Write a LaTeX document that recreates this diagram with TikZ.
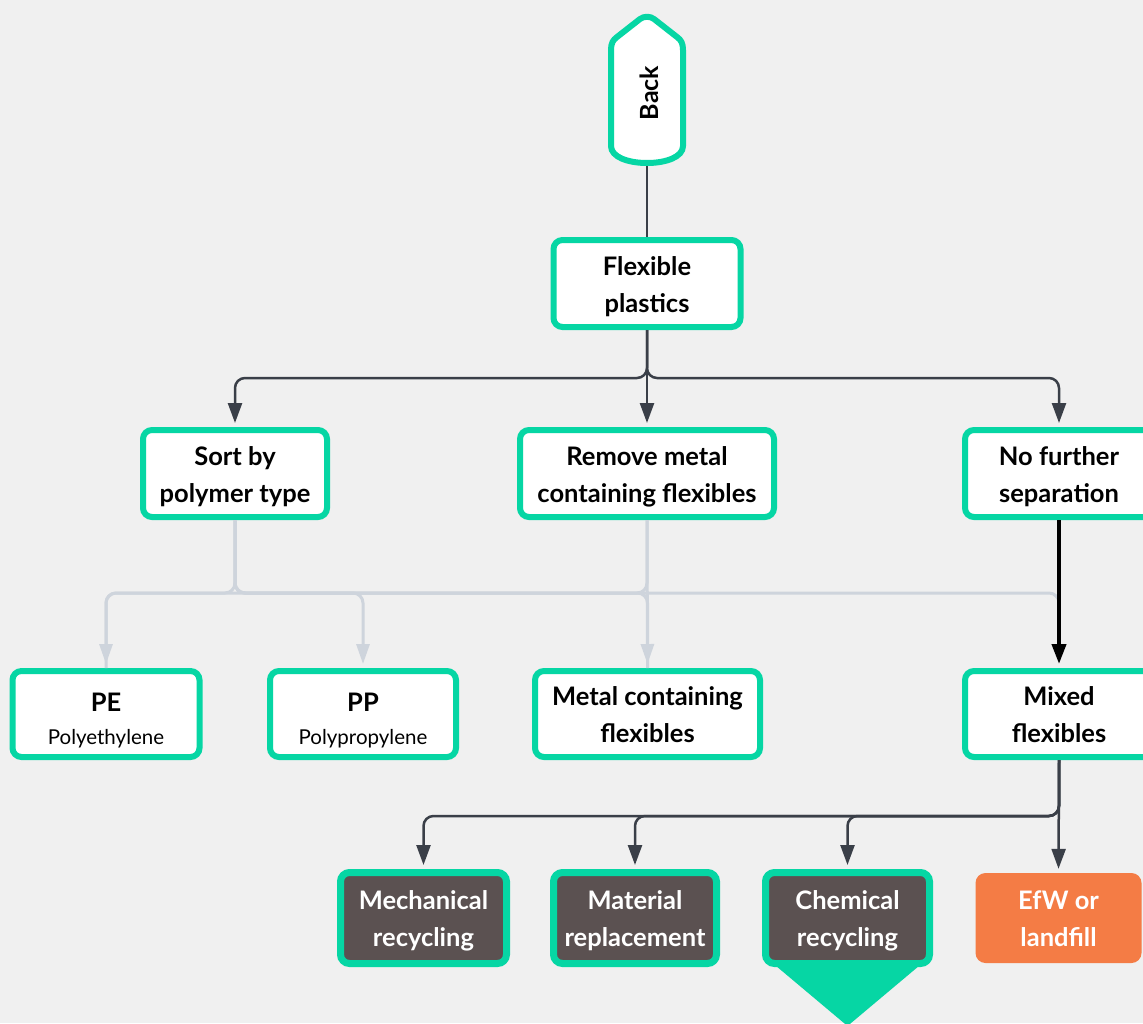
\documentclass[tikz,border=0pt]{standalone}
\usepackage{fontspec}
\setmainfont{Lato}
\usetikzlibrary{arrows.meta}
\definecolor{grn}{RGB}{6,214,164}
\definecolor{dkline}{RGB}{58,63,72}
\definecolor{ltline}{RGB}{206,212,220}
\definecolor{dkfill}{RGB}{91,81,81}
\definecolor{orng}{RGB}{244,124,69}
\definecolor{bgc}{RGB}{240,240,240}
\newcommand\topst{\rule{0pt}{28pt}}
\newcommand\botst{\rule[-8pt]{0pt}{8pt}}
\tikzset{
  txt/.style={font=\bfseries\fontsize{25.5}{37}\selectfont},
  box/.style={draw=grn, line width=6pt, fill=white, rounded corners=9pt, align=center,
    inner sep=0pt, txt, text=black},
  endbox/.style={draw=grn, line width=7pt, fill=dkfill, rounded corners=9pt, align=center,
    inner sep=0pt, txt, text=white},
  orbox/.style={fill=orng, rounded corners=10pt, align=center,
    inner sep=0pt, txt, text=white},
  dk/.style={draw=dkline, line width=2.5pt, rounded corners=10pt},
  lt/.style={draw=ltline, line width=3pt, rounded corners=10pt},
  bk/.style={draw=black, line width=4pt},
  tipdk/.style={-{Triangle[length=20pt,width=14pt]}, shorten >=4pt},
  tiplt/.style={-{Triangle[length=20pt,width=13pt]}, shorten >=4pt},
}
\begin{document}
\begin{tikzpicture}[x=1pt,y=-1pt]
\useasboundingbox (0,0) rectangle (1143,1023);
\fill[bgc] (0,0) rectangle (1143,1023);
\clip (0,0) rectangle (1143,1023);

% Back shape
\draw[draw=grn, fill=white, line width=6pt, line join=round]
  (611,146) -- (611,50) .. controls (611,43) and (613,40) .. (617,37)
  -- (640,19) .. controls (644,16) and (650,16) .. (654,19)
  -- (677,37) .. controls (681,40) and (683,43) .. (683,50)
  -- (683,146) .. controls (683,157) and (666,163) .. (647,163)
  .. controls (628,163) and (611,157) .. (611,146) -- cycle;
\node[rotate=90, font=\bfseries\fontsize{25}{28}\selectfont] (back) at (649,93) {Back};
\coordinate (backb) at (647,166);

% nodes
\node[box, minimum width=187pt, minimum height=87pt] (flex) at (647,283.5) {\topst Flexible\\plastics\botst};
\node[box, minimum width=184pt, minimum height=87pt] (sort) at (235,473.5) {\topst Sort by\\polymer type\botst};
\node[box, minimum width=254pt, minimum height=87pt] (remove) at (647,473.5) {\topst Remove metal\\containing flexibles\botst};
\node[box, minimum width=188pt, minimum height=87pt] (nofur) at (1059,473.5) {\topst No further\\separation\botst};
\node[box, minimum width=187pt, minimum height=86pt] (pe) at (106,714)
  {\rule{0pt}{35pt}PE\\[-4pt]{\mdseries\fontsize{20.5}{24}\selectfont Polyethylene}\botst};
\node[box, minimum width=186pt, minimum height=86pt] (pp) at (363,714)
  {\rule{0pt}{35pt}PP\\[-4pt]{\mdseries\fontsize{20.5}{24}\selectfont Polypropylene}\botst};
\node[box, minimum width=225pt, minimum height=86pt] (metal) at (647.5,714) {\topst Metal containing\\flexibles\botst};
\node[box, minimum width=188pt, minimum height=86pt] (mixed) at (1059,714) {\topst Mixed\\flexibles\botst};

\fill[grn] (763,955) -- (932,955) -- (847.5,1026) -- cycle;
\node[endbox, minimum width=166pt, minimum height=91pt] (mech) at (423.5,918) {\topst Mechanical\\recycling\botst};
\node[endbox, minimum width=163pt, minimum height=91pt] (mat) at (635,918) {\topst Material\\replacement\botst};
\node[endbox, minimum width=164pt, minimum height=91pt] (chem) at (847.5,918) {\topst Chemical\\recycling\botst};
\node[orbox, minimum width=166pt, minimum height=90pt] (efw) at (1058.5,918) {\topst EfW or\\landfill\botst};

% junctions
\coordinate (j1) at (647,378);
\coordinate (j2) at (235,593);
\coordinate (j3) at (647,593);
\coordinate (j4) at (1059,816);

% connectors
\draw[dk] (backb) -- (flex.north);
\draw[dk,tipdk] (flex.south) -- (j1) -| (sort.north);
\draw[dk,tipdk] (flex.south) -- (remove.north);
\draw[dk,tipdk] (flex.south) -- (j1) -| (nofur.north);

\draw[lt,tiplt] (sort.south) -- (j2) -| (pe.north);
\draw[lt,tiplt] (sort.south) -- (j2) -| (pp.north);
\draw[lt] (remove.south) -- (j3) -| (pe.north);
\draw[lt] (sort.south) -- (j2) -| (metal.north);
\draw[lt] (sort.south) -- (j2) -| ([yshift=30pt]mixed.north);
\draw[lt,tiplt] (remove.south) -- (metal.north);

\draw[bk,tipdk] (nofur.south) -- (mixed.north);

\draw[dk,tipdk] (mixed.south) -- (j4) -| (mech.north);
\draw[dk,tipdk] (mixed.south) -- (j4) -| (mat.north);
\draw[dk,tipdk] (mixed.south) -- (j4) -| (chem.north);
\draw[dk,tipdk] (mixed.south) -- (efw.north);
\end{tikzpicture}
\end{document}
